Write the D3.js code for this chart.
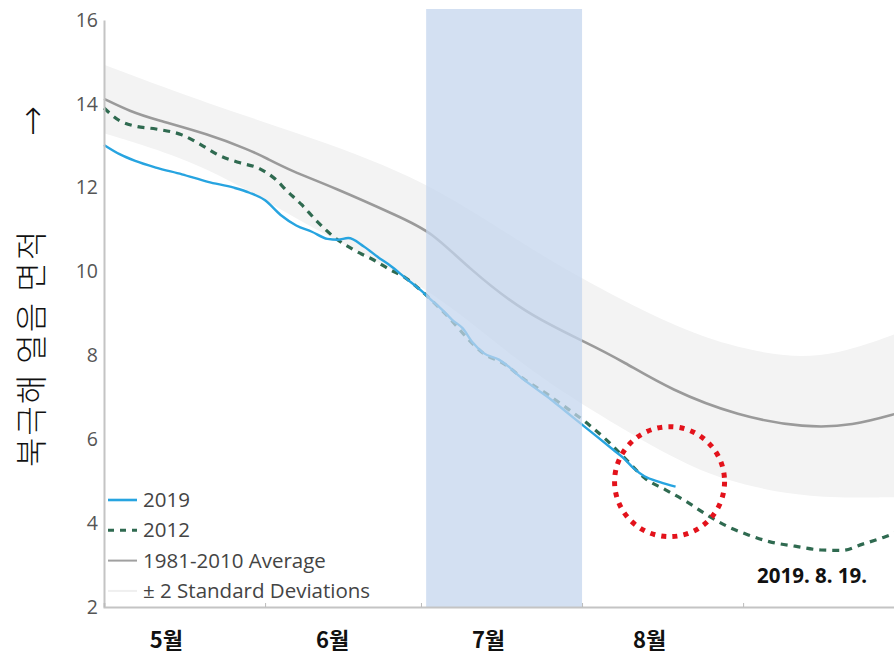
<!DOCTYPE html>
<html>
<head>
<meta charset="utf-8">
<script src="https://cdn.jsdelivr.net/npm/d3@7"></script>
<style>
  html, body { margin: 0; padding: 0; background: #fff; overflow: hidden; }
  svg { display: block; }
</style>
</head>
<body>
<svg id="chart" width="894" height="655"></svg>
<script>
// Arctic sea ice extent (million km²), days counted from 1 May
const avgDays   = [0, 5, 10, 20, 28, 31, 36, 44, 57, 63, 70, 81, 93, 100, 109, 122, 135, 144, 153];
const avgValues = [14.12, 13.82, 13.62, 13.28, 12.9, 12.72, 12.4, 12.02, 11.3, 10.95, 10.1, 9.0, 8.3, 7.85, 7.18, 6.55, 6.27, 6.32, 6.63];

const sdDays  = [0, 20, 40, 62, 80, 93, 110, 120, 131, 141, 153];
const sdUpper = [14.93, 14.0, 13.2, 12.18, 10.7, 9.75, 8.68, 8.25, 7.95, 8.0, 8.54];
const sdLower = [13.3, 12.55, 11.0, 9.7, 7.8, 6.75, 5.5, 5.0, 4.7, 4.6, 4.62];

const days2019   = [0, 3, 6, 10, 15, 20, 25, 28, 31, 34, 37, 40, 43, 45, 47, 50, 53, 55, 58, 61, 63, 65, 67, 69, 71, 73, 76, 78, 80, 83, 86, 89, 92, 95, 98, 100, 102, 104, 107, 110];
const values2019 = [13.02, 12.8, 12.64, 12.48, 12.32, 12.14, 12.0, 11.88, 11.7, 11.35, 11.1, 10.95, 10.78, 10.76, 10.8, 10.6, 10.32, 10.15, 9.85, 9.55, 9.32, 9.1, 8.85, 8.65, 8.3, 8.06, 7.9, 7.72, 7.5, 7.22, 6.95, 6.65, 6.35, 6.05, 5.75, 5.55, 5.3, 5.12, 4.98, 4.87];

const days2012   = [0, 3, 6, 10, 15, 19, 22, 26, 30, 33, 35, 38, 41, 44, 48, 52, 55, 58, 61, 64, 67, 70, 73, 77, 81, 85, 89, 93, 97, 101, 104, 108, 112, 116, 120, 124, 128, 133, 138, 142, 146, 150, 153];
const values2012 = [13.9, 13.6, 13.47, 13.4, 13.26, 13.0, 12.78, 12.6, 12.45, 12.2, 11.95, 11.6, 11.2, 10.85, 10.52, 10.27, 10.05, 9.85, 9.55, 9.2, 8.82, 8.4, 8.05, 7.8, 7.42, 7.1, 6.75, 6.38, 5.95, 5.45, 5.08, 4.8, 4.52, 4.2, 3.92, 3.72, 3.56, 3.45, 3.36, 3.35, 3.5, 3.66, 3.8];

const yTicks       = [2, 4, 6, 8, 10, 12, 14, 16];
const monthLabels  = ["5월", "6월", "7월", "8월"];
const monthLabelAt = ["2019-05-13", "2019-06-14", "2019-07-14", "2019-08-14"];
const highlight    = ["2019-07-02", "2019-08-01"];
const markedDay    = "2019-08-19";
const markedText   = "2019. 8. 19.";
const legendItems  = ["2019", "2012", "1981-2010 Average", "± 2 Standard Deviations"];
const yTitle       = "북극해 얼음 면적";

const parse = d3.timeParse("%Y-%m-%d");
const start = parse("2019-05-01");
const end   = parse("2019-10-01");
const dayToDate = d => d3.timeDay.offset(start, d);

const svg = d3.select("#chart");
const M = { left: 104, right: 899, top: 20, bottom: 607 };

const x = d3.scaleTime().domain([start, end]).range([M.left, M.right]);
const y = d3.scaleLinear().domain([2, 16]).range([M.bottom, M.top]);

const plot = svg.append("g");

// ±2 SD band
const band = d3.area()
  .x(d => x(dayToDate(d.day)))
  .y0(d => y(d.lo))
  .y1(d => y(d.hi))
  .curve(d3.curveBasis);
plot.append("path")
  .datum(sdDays.map((d, i) => ({ day: d, lo: sdLower[i], hi: sdUpper[i] })))
  .attr("d", band)
  .attr("fill", "#f3f3f3");

const line = d3.line()
  .x(d => x(dayToDate(d[0])))
  .y(d => y(d[1]));

// 1981-2010 average
plot.append("path")
  .datum(d3.zip(avgDays, avgValues))
  .attr("d", line.curve(d3.curveBasis))
  .attr("fill", "none")
  .attr("stroke", "#9a9a9a")
  .attr("stroke-width", 2.6);

// 2012
plot.append("path")
  .datum(d3.zip(days2012, values2012))
  .attr("d", line.curve(d3.curveMonotoneX))
  .attr("fill", "none")
  .attr("stroke", "#2f6a50")
  .attr("stroke-width", 3.2)
  .attr("stroke-dasharray", "7 6");

// 2019
plot.append("path")
  .datum(d3.zip(days2019, values2019))
  .attr("d", line.curve(d3.curveMonotoneX))
  .attr("fill", "none")
  .attr("stroke", "#27a4e0")
  .attr("stroke-width", 2.4);

// July highlight
plot.append("rect")
  .attr("x", x(parse(highlight[0])))
  .attr("y", 9)
  .attr("width", x(parse(highlight[1])) - x(parse(highlight[0])))
  .attr("height", M.bottom - 9)
  .attr("fill", "rgb(196,213,238)")
  .attr("fill-opacity", 0.74);

// Axes
const yAxis = d3.axisLeft(y).tickValues(yTicks).tickSize(0).tickPadding(6);
const gy = svg.append("g").attr("transform", `translate(${M.left},0)`).call(yAxis);
gy.select(".domain").attr("stroke", "#c4c4c4").attr("stroke-width", 2);
gy.selectAll("text")
  .attr("font-family", "'Open Sans', sans-serif")
  .attr("font-size", 19.5)
  .attr("fill", "#555");

const xAxis = d3.axisBottom(x).ticks(d3.timeMonth.every(1)).tickSize(-4).tickFormat("");
const gx = svg.append("g").attr("transform", `translate(0,${M.bottom})`).call(xAxis);
gx.select(".domain").attr("stroke", "#c4c4c4").attr("stroke-width", 2);
gx.selectAll(".tick line").attr("stroke", "#bbb");

// Month labels
svg.append("g").selectAll("text")
  .data(monthLabels)
  .join("text")
  .attr("x", (d, i) => x(parse(monthLabelAt[i])))
  .attr("y", 648)
  .attr("text-anchor", "middle")
  .attr("font-family", "'Noto Sans CJK KR', sans-serif")
  .attr("font-weight", 700)
  .attr("font-size", 22)
  .attr("fill", "#111")
  .text(d => d);

// Y title and arrow
svg.append("text")
  .attr("transform", "translate(43,348) rotate(-90)")
  .attr("text-anchor", "middle")
  .attr("font-family", "'Noto Sans CJK KR', sans-serif")
  .attr("font-weight", 300)
  .attr("font-size", 32)
  .attr("letter-spacing", 2)
  .attr("fill", "#111")
  .text(yTitle);
svg.append("text")
  .attr("x", 33).attr("y", 134)
  .attr("text-anchor", "middle")
  .attr("font-family", "'DejaVu Sans', sans-serif")
  .attr("font-weight", 300)
  .attr("font-size", 36)
  .attr("fill", "#111")
  .text("\u2191");

// Legend
const lg = svg.append("g").attr("transform", "translate(108,500)");
const rowH = 30.3;
const legendStyles = [
  { stroke: "#27a4e0", width: 2.6, dash: null },
  { stroke: "#2f6a50", width: 3, dash: "6 6" },
  { stroke: "#a0a0a0", width: 2, dash: null },
  { stroke: "#efefef", width: 2, dash: null }
];
legendItems.forEach((t, i) => {
  const s = legendStyles[i];
  lg.append("line")
    .attr("x1", 0).attr("x2", 29)
    .attr("y1", i * rowH).attr("y2", i * rowH)
    .attr("stroke", s.stroke).attr("stroke-width", s.width)
    .attr("stroke-dasharray", s.dash);
  lg.append("text")
    .attr("x", 35).attr("y", i * rowH + 7)
    .attr("font-family", "'Open Sans', sans-serif")
    .attr("font-size", 20.5)
    .attr("fill", "#444")
    .text(t);
});

// Marker around the latest 2019 value
const mDate = parse(markedDay);
const lastIdx = days2019.length - 1;
svg.append("circle")
  .attr("cx", x(mDate) - 6)
  .attr("cy", y(values2019[lastIdx]) - 5)
  .attr("r", 55)
  .attr("fill", "none")
  .attr("stroke", "#e3121b")
  .attr("stroke-width", 5)
  .attr("stroke-dasharray", "5 6.2");

svg.append("text")
  .attr("x", 812).attr("y", 583)
  .attr("text-anchor", "middle")
  .attr("font-family", "'Noto Sans', sans-serif")
  .attr("font-weight", 700)
  .attr("font-size", 20.5)
  .attr("fill", "#111")
  .text(markedText);
</script>
</body>
</html>
